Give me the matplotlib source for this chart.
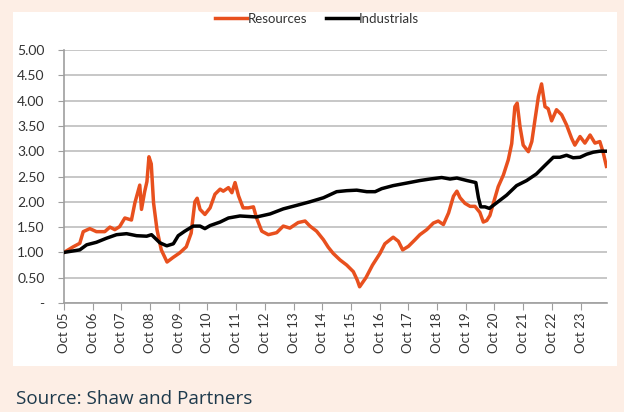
import matplotlib
matplotlib.use("Agg")
import matplotlib.pyplot as plt
from matplotlib.patches import Rectangle

# decimal years (Oct 05 = 2005.75) and relative performance
res_x = [2005.75, 2006.07, 2006.3, 2006.42, 2006.65, 2006.88, 2007.17, 2007.35, 2007.52,
         2007.69, 2007.87, 2008.1, 2008.22, 2008.39, 2008.45, 2008.56, 2008.64, 2008.71,
         2008.79, 2008.87, 2008.99, 2009.14, 2009.34, 2009.55, 2009.78, 2010.01, 2010.18,
         2010.31, 2010.39, 2010.49, 2010.66, 2010.84, 2011.01, 2011.19, 2011.3, 2011.48,
         2011.6, 2011.71, 2011.83, 2011.99, 2012.17, 2012.35, 2012.46, 2012.64, 2012.87,
         2013.16, 2013.39, 2013.62, 2013.91, 2014.15, 2014.32, 2014.55, 2014.79, 2014.96,
         2015.13, 2015.37, 2015.6, 2015.83, 2015.97, 2016.05, 2016.27, 2016.5, 2016.76,
         2016.93, 2017.22, 2017.4, 2017.55, 2017.75, 2017.98, 2018.15, 2018.39, 2018.62,
         2018.79, 2018.97, 2019.15, 2019.32, 2019.44, 2019.55, 2019.72, 2019.9, 2020.07,
         2020.24, 2020.36, 2020.48, 2020.59, 2020.71, 2020.88, 2021.06, 2021.23, 2021.35,
         2021.46, 2021.54, 2021.64, 2021.75, 2021.93, 2022.05, 2022.16, 2022.28, 2022.39,
         2022.51, 2022.62, 2022.74, 2022.91, 2023.09, 2023.26, 2023.44, 2023.55, 2023.73,
         2023.9, 2024.08, 2024.25, 2024.42, 2024.53, 2024.65]
res_y = [1.00, 1.11, 1.18, 1.41, 1.47, 1.41, 1.41, 1.50, 1.45,
         1.51, 1.68, 1.64, 1.98, 2.33, 1.85, 2.20, 2.40, 2.89,
         2.75, 1.98, 1.45, 1.05, 0.81, 0.90, 0.99, 1.11, 1.38,
         2.00, 2.07, 1.85, 1.75, 1.88, 2.15, 2.25, 2.21, 2.28,
         2.18, 2.38, 2.12, 1.88, 1.88, 1.90, 1.68, 1.42, 1.35,
         1.39, 1.52, 1.48, 1.59, 1.62, 1.52, 1.42, 1.25, 1.10,
         0.98, 0.85, 0.75, 0.62, 0.45, 0.32, 0.50, 0.75, 0.98,
         1.17, 1.30, 1.22, 1.05, 1.12, 1.25, 1.35, 1.45, 1.58,
         1.62, 1.55, 1.78, 2.11, 2.21, 2.08, 1.97, 1.91, 1.91,
         1.79, 1.60, 1.63, 1.73, 1.97, 2.30, 2.53, 2.83, 3.15,
         3.88, 3.95, 3.48, 3.12, 2.99, 3.19, 3.62, 4.08, 4.33,
         3.88, 3.84, 3.60, 3.82, 3.72, 3.52, 3.25, 3.12, 3.29,
         3.16, 3.32, 3.16, 3.19, 2.99, 2.70]

ind_x = [2005.75, 2006.3, 2006.54, 2006.88, 2007.23, 2007.58, 2007.93, 2008.28, 2008.63,
         2008.8, 2009.09, 2009.33, 2009.56, 2009.73, 2009.96, 2010.25, 2010.49, 2010.66,
         2010.84, 2011.19, 2011.48, 2011.88, 2012.46, 2012.93, 2013.39, 2013.86, 2014.32,
         2014.79, 2015.02, 2015.25, 2015.6, 2015.95, 2016.3, 2016.59, 2016.82, 2017.22,
         2017.69, 2018.15, 2018.5, 2018.91, 2019.2, 2019.44, 2019.79, 2020.1, 2020.19,
         2020.27, 2020.42, 2020.57, 2020.71, 2020.94, 2021.17, 2021.52, 2021.87, 2022.21,
         2022.51, 2022.8, 2023.03, 2023.26, 2023.49, 2023.73, 2023.96, 2024.19, 2024.42,
         2024.65]
ind_y = [1.00, 1.05, 1.15, 1.20, 1.28, 1.35, 1.37, 1.33, 1.32,
         1.35, 1.19, 1.13, 1.17, 1.33, 1.42, 1.52, 1.52, 1.47,
         1.53, 1.60, 1.68, 1.72, 1.70, 1.76, 1.86, 1.93, 2.00,
         2.08, 2.14, 2.20, 2.22, 2.23, 2.20, 2.20, 2.26, 2.32,
         2.37, 2.42, 2.45, 2.48, 2.45, 2.47, 2.42, 2.38, 2.08,
         1.90, 1.90, 1.87, 1.93, 2.03, 2.13, 2.32, 2.42, 2.55,
         2.72, 2.88, 2.88, 2.92, 2.87, 2.88, 2.94, 2.98, 3.00,
         3.00]

years = list(range(2005, 2024))
tick_labels = ["Oct %02d" % (y % 100) for y in years]
ytick_vals = [0, 0.5, 1, 1.5, 2, 2.5, 3, 3.5, 4, 4.5, 5]
ytick_labels = ["-"] + ["%.2f" % v for v in ytick_vals[1:]]

ORANGE = "#E8501E"
GRID = "#BDBDBD"
plt.rcParams["font.family"] = ["Lato", "DejaVu Sans"]

fig = plt.figure(figsize=(6.24, 4.12), dpi=100, facecolor="#FDEEE5")
fig.patches.append(Rectangle((13 / 624, 46 / 412), 604 / 624, 354 / 412,
                             transform=fig.transFigure, facecolor="white",
                             edgecolor="none", zorder=-5))

ax = fig.add_axes([64 / 624, 109 / 412, 543 / 624, 253 / 412])
ax.set_zorder(2)
ax.set_facecolor("white")
ax.plot(res_x, res_y, color=ORANGE, lw=2.5, label="Resources", zorder=3)
ax.plot(ind_x, ind_y, color="black", lw=2.5, label="Industrials", zorder=4)

ax.set_xlim(2005.75, 2024.67)
ax.set_ylim(0, 5)
ax.set_xticks([y + 0.75 for y in years])
ax.set_xticklabels(tick_labels, rotation=90, fontsize=9.5, color="#333333")
ax.set_yticks(ytick_vals)
ax.set_yticklabels(ytick_labels, fontsize=10, color="#333333")
ax.yaxis.grid(True, color=GRID, lw=1.2)
ax.set_axisbelow(True)
for s in ["top", "right"]:
    ax.spines[s].set_visible(False)
for s in ["left", "bottom"]:
    ax.spines[s].set_color("#9E9E9E")
    ax.spines[s].set_linewidth(1.2)
ax.tick_params(axis="x", length=5, color="#9E9E9E", pad=2)
ax.tick_params(axis="y", length=4, color="#9E9E9E", pad=10)

fig.legend(loc="center", bbox_to_anchor=(317 / 624, 393 / 412), ncol=2, frameon=False,
           fontsize=9.5, handlelength=2.4, handletextpad=0.1, columnspacing=1.4,
           labelcolor="#333333")

fig.text(16 / 624, 13 / 412, "Source: Shaw and Partners", fontsize=13.6,
         family=["Open Sans", "DejaVu Sans"], color="#1E3A4C", va="center")

fig.savefig("out.png", dpi=100, facecolor=fig.get_facecolor())
